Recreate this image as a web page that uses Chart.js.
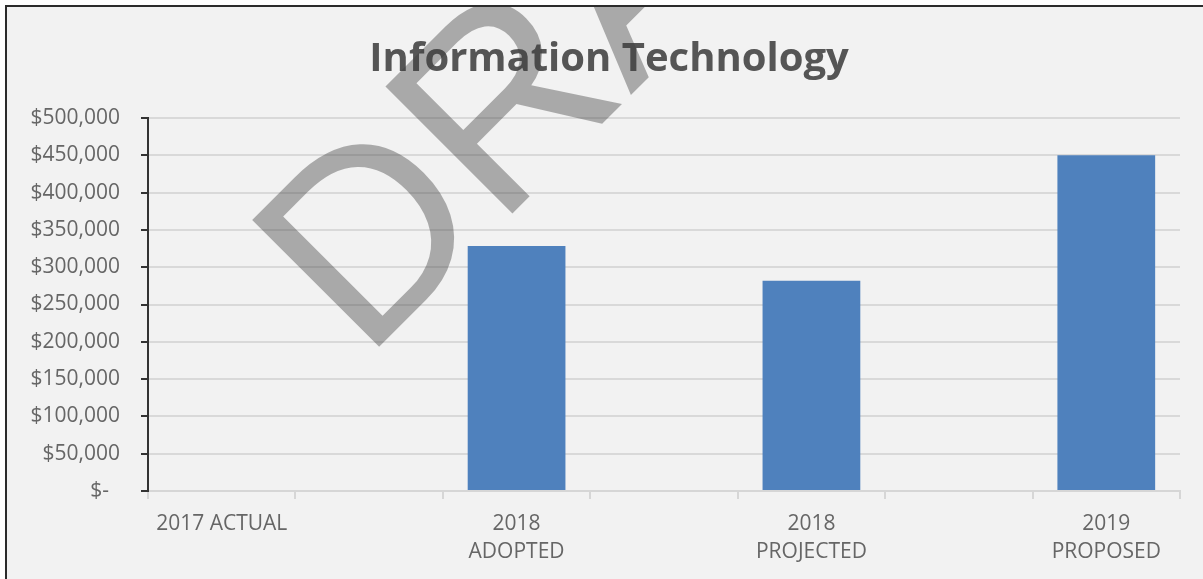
<!DOCTYPE html>
<html>
<head>
<meta charset="utf-8">
<script src="https://cdn.jsdelivr.net/npm/chart.js@4.4.1/dist/chart.umd.min.js"></script>
<style>
  body { margin: 0; background: #ffffff; }
  #frame {
    position: absolute;
    left: 5px;
    top: 5px;
    width: 1196px;
    height: 572px;
    border-top: 2px solid #2b2b2b;
    border-left: 2px solid #2b2b2b;
    background: #f2f2f2;
  }
</style>
</head>
<body>
<div id="frame"><canvas id="myChart" width="1196" height="572"></canvas></div>
<script>
// blank columns sit between the real ones, like in the spreadsheet
var categories = ['2017 ACTUAL', '', ['2018', 'ADOPTED'], '', ['2018', 'PROJECTED'], '', ['2019', 'PROPOSED']];
var amounts = [0, null, 328500, null, 282000, null, 450000];
var axisMax = 500000;
var axisStep = 50000;

function money(v) {
  if (v === 0) {
    return '$-  ';
  }
  return '$' + v.toLocaleString('en-US');
}

// the "DRAFT" stamp laid over the chart
var draftStamp = {
  id: 'draftStamp',
  afterDraw: function(chart) {
    var c = chart.ctx;
    c.save();
    c.translate(357, 355);
    c.rotate(-Math.PI / 4);
    c.font = '261px "Liberation Sans", Arial, sans-serif';
    c.fillStyle = 'rgba(60, 60, 60, 0.4)';
    c.textBaseline = 'alphabetic';
    c.textAlign = 'left';
    c.fillText('DRAFT', 0, 0);
    c.restore();
  }
};

var ctx = document.getElementById('myChart');

var itChart = new Chart(ctx, {
  type: 'bar',
  data: {
    labels: categories,
    datasets: [{
      label: 'Information Technology',
      data: amounts,
      backgroundColor: '#4f81bd',
      barPercentage: 1,
      categoryPercentage: 0.663
    }]
  },
  options: {
    responsive: false,
    animation: false,
    layout: {
      padding: { left: 0, right: 23, top: 0, bottom: 0 }
    },
    plugins: {
      legend: { display: false },
      tooltip: { enabled: false },
      title: {
        display: true,
        // leading spaces nudge the title to the middle of the whole frame
        text: '\u00a0\u00a0\u00a0Information Technology',
        color: '#555555',
        font: { family: '"Open Sans"', size: 40, weight: 'bold' },
        padding: { top: 29, bottom: 34 }
      }
    },
    scales: {
      x: {
        grid: {
          display: true,
          drawOnChartArea: false,
          offset: true,
          color: '#d6d6d6',
          lineWidth: 2,
          tickLength: 8
        },
        border: { color: '#d6d6d6', width: 2 },
        ticks: {
          color: '#666666',
          font: { family: '"Open Sans"', size: 21, lineHeight: 1.33 },
          padding: 11,
          maxRotation: 0,
          autoSkip: false
        },
        afterFit: function(scale) {
          scale.height = 88;
        }
      },
      y: {
        min: 0,
        max: axisMax,
        grid: {
          color: '#d9d9d9',
          lineWidth: 2,
          tickColor: '#333333',
          tickLength: 7
        },
        border: { color: '#333333', width: 2 },
        ticks: {
          stepSize: axisStep,
          color: '#666666',
          font: { family: '"Open Sans"', size: 21 },
          padding: 21,
          callback: function(value) {
            return money(value);
          }
        },
        afterFit: function(scale) {
          scale.width = 141;
        }
      }
    }
  },
  plugins: [draftStamp]
});
</script>
</body>
</html>
